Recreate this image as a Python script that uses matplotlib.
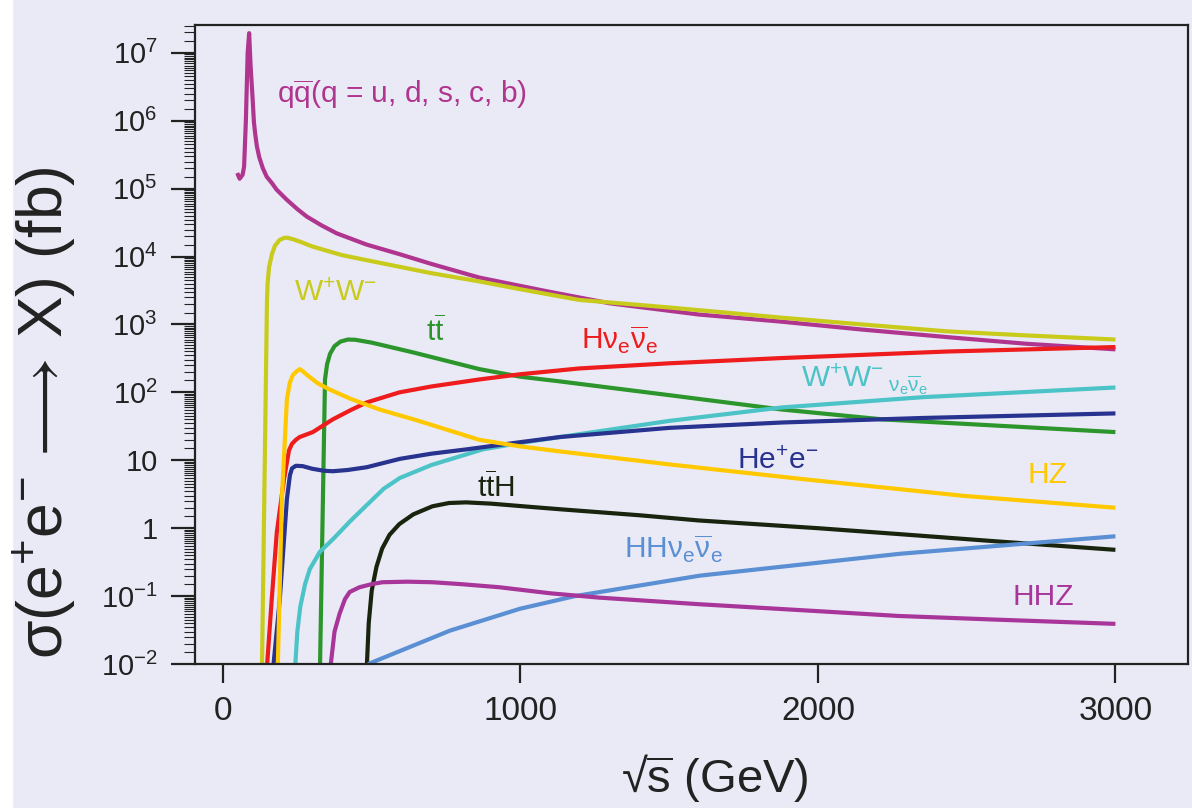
import matplotlib
matplotlib.use("Agg")
import matplotlib.pyplot as plt
from matplotlib.ticker import FixedLocator, LogLocator, NullFormatter, FixedFormatter
import numpy as np

plt.rcParams['font.family'] = ['Liberation Sans', 'DejaVu Sans']
plt.rcParams['font.sans-serif'] = ['Liberation Sans']
plt.rcParams['mathtext.fontset'] = 'custom'
plt.rcParams['mathtext.rm'] = 'Liberation Sans'
plt.rcParams['mathtext.it'] = 'Liberation Sans:italic'
plt.rcParams['mathtext.bf'] = 'Liberation Sans:bold'
plt.rcParams['mathtext.fallback'] = 'stixsans'

# ---------------- data (sqrt(s) in GeV, sigma in fb) ----------------
qq_x = [48, 56, 66, 71, 77, 83, 88, 93, 100, 104, 108, 114, 122, 134, 147, 165, 180, 214, 250,
        281, 330, 382, 483, 595, 700, 862, 1086, 1300, 1600, 1877, 2150, 2437, 2700, 3000]
qq_y = [1.7e5, 1.4e5, 1.6e5, 2.1e5, 1e6, 1e7, 1.95e7, 6.3e6, 2.0e6, 9.6e5, 6.6e5, 4.2e5, 2.9e5,
        2.0e5, 1.5e5, 1.2e5, 9.7e4, 6.9e4, 5.0e4, 3.9e4, 2.9e4, 2.2e4, 1.5e4, 1.08e4, 7.8e3,
        4.9e3, 3.1e3, 2.05e3, 1.4e3, 1.1e3, 8.4e2, 6.5e2, 5.2e2, 4.3e2]

ww_x = [131, 148, 150, 155, 165, 175, 190, 205, 215, 235, 260, 302, 400, 526, 700, 862, 1000,
        1197, 1500, 1877, 2150, 2437, 2700, 3000]
ww_y = [0.008, 2.3e3, 4e3, 7e3, 1.1e4, 1.45e4, 1.75e4, 1.88e4, 1.9e4, 1.8e4, 1.65e4, 1.4e4,
        1.05e4, 8.1e3, 5.7e3, 4.3e3, 3.3e3, 2.3e3, 1.78e3, 1.26e3, 1.0e3, 7.9e2, 6.9e2, 6.0e2]

tt_x = [326, 343, 350, 360, 375, 395, 420, 445, 500, 637, 862, 1000, 1133, 1500, 1877, 2218, 3000]
tt_y = [0.008, 155, 260, 370, 480, 560, 600, 595, 540, 390, 220, 170, 145, 91, 56, 40, 26]

hnn_x = [147, 164, 181, 205, 222, 232, 245, 258, 302, 369, 430, 483, 593, 700, 862, 1000, 1197,
         1500, 1877, 2437, 3000]
hnn_y = [0.008, 0.09, 0.87, 5.2, 14, 17.5, 20, 22, 26, 40, 55, 71, 100, 122, 155, 185, 225,
         268, 320, 400, 465]

hz_x = [184, 198, 215, 225, 235, 248, 258, 268, 290, 320, 359, 430, 526, 650, 862, 1000, 1133,
        1500, 1946, 2487, 3000]
hz_y = [0.008, 2.7, 80, 140, 180, 205, 220, 205, 170, 135, 110, 80, 56, 39, 20, 16, 13.5, 8.7,
        5.3, 3.0, 2.0]

wwnn_x = [242, 250, 260, 276, 292, 326, 370, 427, 484, 540, 595, 700, 874, 1000, 1133, 1500,
          1879, 2353, 3000]
wwnn_y = [0.008, 0.03, 0.07, 0.15, 0.25, 0.45, 0.69, 1.26, 2.2, 3.8, 5.5, 8.5, 14.5, 18, 22, 38,
          60, 85, 118]

hee_x = [168, 191, 215, 225, 232, 245, 268, 300, 340, 370, 420, 483, 595, 700, 820, 1000, 1133,
         1500, 1879, 2353, 3000]
hee_y = [0.008, 0.09, 2.7, 6.0, 7.6, 8.3, 8.2, 7.5, 7.0, 6.9, 7.2, 7.9, 10.5, 12.5, 14.5, 18.5,
         22, 30, 36, 42, 49]

tth_x = [483, 490, 500, 516, 535, 560, 593, 640, 704, 760, 818, 900, 1039, 1133, 1400, 1599,
         2000, 2270, 2600, 3000]
tth_y = [0.008, 0.04, 0.12, 0.27, 0.5, 0.8, 1.15, 1.6, 2.1, 2.35, 2.4, 2.3, 2.05, 1.9, 1.55,
         1.3, 1.0, 0.82, 0.64, 0.48]

hhnn_x = [488, 763, 998, 1183, 1603, 2276, 3000]
hhnn_y = [0.01, 0.031, 0.065, 0.10, 0.2, 0.42, 0.76]

hhz_x = [360, 375, 392, 410, 426, 459, 500, 536, 620, 704, 800, 929, 1100, 1264, 1599, 2000,
         2270, 2600, 3000]
hhz_y = [0.008, 0.03, 0.055, 0.09, 0.115, 0.135, 0.15, 0.16, 0.163, 0.16, 0.15, 0.135, 0.11,
         0.095, 0.076, 0.06, 0.051, 0.045, 0.039]

xticks = [0, 1000, 2000, 3000]
xtick_labels = ['0', '1000', '2000', '3000']
yticks = [1e7, 1e6, 1e5, 1e4, 1e3, 1e2, 10, 1, 0.1, 0.01]
ytick_labels = [r'$\mathregular{10^{7}}$', r'$\mathregular{10^{6}}$', r'$\mathregular{10^{5}}$',
                r'$\mathregular{10^{4}}$', r'$\mathregular{10^{3}}$', r'$\mathregular{10^{2}}$',
                '10', '1', r'$\mathregular{10^{-1}}$', r'$\mathregular{10^{-2}}$']

# ---------------- styling ----------------
BG = '#e9eaf5'
series = [
    (qq_x, qq_y, '#b0358f', r'q$\mathregular{\overline{q}}$(q = u, d, s, c, b)', (181, 2.4e6), 'left'),
    (ww_x, ww_y, '#c9cb1c', r'$\mathregular{W^{+}W^{-}}$', (380, 2.9e3), 'center'),
    (tt_x, tt_y, '#2c962c', r'$\mathregular{t\overline{t}}$', (713, 7.9e2), 'center'),
    (hnn_x, hnn_y, '#ee1c1c', r'$\mathregular{H\nu_{e}\overline{\nu}_{e}}$', (1334, 6.0e2), 'center'),
    (wwnn_x, wwnn_y, '#4cc3c6', r'$\mathregular{W^{+}W^{-}\,{}_{\nu_{e}\overline{\nu}_{e}}}$', (2155, 1.55e2), 'center'),
    (hee_x, hee_y, '#28328f', r'$\mathregular{He^{+}e^{-}}$', (1866, 9.7), 'center'),
    (hz_x, hz_y, '#ffc800', 'HZ', (2773, 6.0), 'center'),
    (tth_x, tth_y, '#18240e', r'$\mathregular{t\overline{t}H}$', (918, 4.0), 'center'),
    (hhnn_x, hhnn_y, '#5a8fd4', r'$\mathregular{HH\nu_{e}\overline{\nu}_{e}}$', (1513, 0.49), 'center'),
    (hhz_x, hhz_y, '#a8359a', 'HHZ', (2756, 0.097), 'center'),
]

fig = plt.figure(figsize=(11.92, 8.08), dpi=100, facecolor=BG)
fig.patches.append(plt.Rectangle((0, 0), 12 / 1192, 1, transform=fig.transFigure,
                                 color='white', zorder=-10))
ax = fig.add_axes([195 / 1192, (808 - 664) / 808, (1188 - 195) / 1192, (664 - 25) / 808])
ax.set_facecolor(BG)

for xs, ys, col, lab, pos, ha in series:
    ax.plot(xs, ys, color=col, lw=3.0, solid_joinstyle='round', solid_capstyle='butt')
    ax.text(pos[0], pos[1], lab, color=col, fontsize=21.5, ha=ha, va='center')

ax.set_yscale('log')
ax.set_xlim(-94, 3244)
ax.set_ylim(1e-2, 2.57e7)

ax.xaxis.set_major_locator(FixedLocator(xticks))
ax.xaxis.set_major_formatter(FixedFormatter(xtick_labels))
ax.yaxis.set_major_locator(FixedLocator(yticks))
ax.yaxis.set_major_formatter(FixedFormatter(ytick_labels))
ax.yaxis.set_minor_locator(LogLocator(base=10, subs=np.arange(1.5, 10, 0.5), numticks=50))
ax.yaxis.set_minor_formatter(NullFormatter())

for s in ax.spines.values():
    s.set_linewidth(1.6)
    s.set_color('#222222')

ax.tick_params(axis='y', which='major', direction='out', length=17, width=1.6, pad=10,
               labelsize=21, colors='#222222', right=False)
ax.tick_params(axis='y', which='minor', direction='out', length=8, width=0.8,
               colors='#222222', right=False)
ax.tick_params(axis='x', which='major', direction='out', length=14, width=1.6, pad=9,
               labelsize=24, colors='#222222', top=False)

ax.set_xlabel(r'√$\mathregular{\overline{s}}$ (GeV)', fontsize=34, color='#222222', va='center')
ax.xaxis.set_label_coords(0.524, -0.178)
ax.set_ylabel(r'$\mathregular{\sigma(e^{+}e^{-}\,\longrightarrow\,X)\ (fb)}$', fontsize=45,
              color='#222222', va='center')
ax.yaxis.set_label_coords(-0.151, 0.393)

fig.savefig('out.png', dpi=100, facecolor=BG)
